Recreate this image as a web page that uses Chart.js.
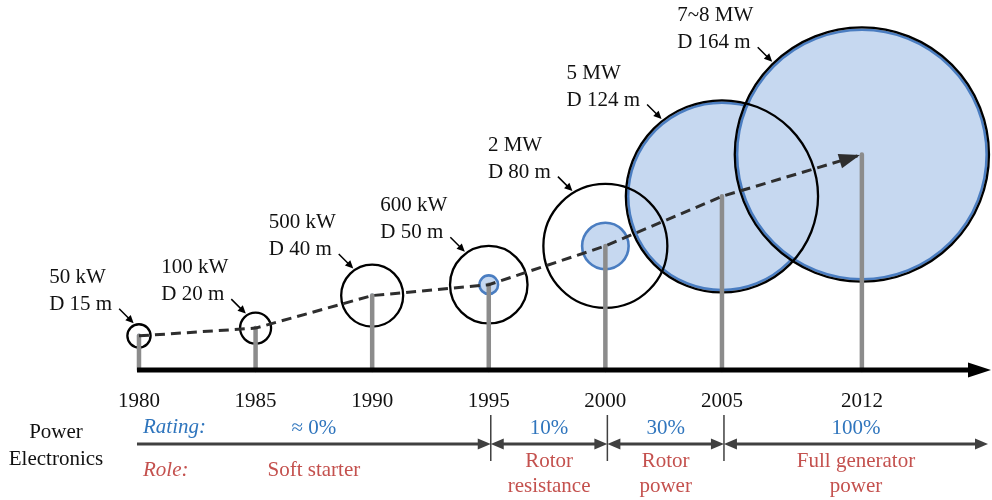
<!DOCTYPE html>
<html>
<head>
<meta charset="utf-8">
<script src="https://cdn.jsdelivr.net/npm/chart.js@4.4.1/dist/chart.umd.min.js"></script>
<style>
  html, body { margin: 0; padding: 0; background: #ffffff; }
  #wrap { width: 992px; height: 500px; position: relative; }
</style>
</head>
<body>
<div id="wrap"><canvas id="chart"></canvas></div>
<script>
// ---------------- data ----------------
const years = [1980, 1985, 1990, 1995, 2000, 2005, 2012];
const ratedPower = ['50 kW', '100 kW', '500 kW', '600 kW', '2 MW', '5 MW', '7~8 MW'];
const rotorDiameterM = [15, 20, 40, 50, 80, 124, 164];
const hubHeightM = [22, 27, 48, 55, 80, 112, 139];
const converterCircleM = [3, 3, 3, 12, 30, 121, 161];

const stageStartYear = [1980, 1995, 2000, 2005];
const stageRating = ['\u2248 0%', '10%', '30%', '100%'];
const stageRole = [['Soft starter'], ['Rotor', 'resistance'], ['Rotor', 'power'], ['Full generator', 'power']];

// ---------------- layout helpers ----------------
const calloutAngleDeg = [-113, -124, -125, -126, -121, -128, -134];
const SERIF = '"Liberation Serif", "Times New Roman", serif';
const FONT = '21px ' + SERIF;
const FONT_IT = 'italic 21px ' + SERIF;
const BLUE_TXT = '#2f75bd';
const RED_TXT = '#c4514e';
// axis break after 2005 (last interval drawn shorter)
function pos(y) { return y <= 2005 ? y : 2005 + (y - 2005) * 6 / 7; }
const X_MIN = 1974.04, X_MAX = 2016.58, Y_MIN = -83.9, Y_MAX = 238.7;

function pxLen(chart, meters) {
  const s = chart.scales.y;
  return Math.abs(s.getPixelForValue(0) - s.getPixelForValue(meters));
}

const hubPoints = () => years.map((y, i) => ({ x: pos(y), y: hubHeightM[i] }));
const towerPoints = years.flatMap((y, i) => [
  { x: pos(y), y: 0 }, { x: pos(y), y: hubHeightM[i] }, { x: pos(y), y: null }
]);

function arrowHead(ctx, tx, ty, ang, len, hw, color) {
  ctx.save();
  ctx.translate(tx, ty);
  ctx.rotate(ang);
  ctx.beginPath();
  ctx.moveTo(0, 0);
  ctx.lineTo(-len, -hw);
  ctx.lineTo(-len, hw);
  ctx.closePath();
  ctx.fillStyle = color;
  ctx.fill();
  ctx.restore();
}

const decor = {
  id: 'decor',
  afterDatasetsDraw(chart) {
    const ctx = chart.ctx;
    const xs = chart.scales.x, ys = chart.scales.y;
    const X = v => xs.getPixelForValue(v);
    const Y = v => ys.getPixelForValue(v);
    const groundY = Y(0);

    ctx.save();
    // ground / time axis arrow
    ctx.strokeStyle = '#000';
    ctx.lineWidth = 5;
    ctx.beginPath();
    ctx.moveTo(X(pos(years[0])) - 2, groundY);
    ctx.lineTo(970, groundY);
    ctx.stroke();
    arrowHead(ctx, 991, groundY, 0, 23, 7.5, '#000');

    // trajectory arrowhead
    const n = years.length;
    const ax0 = X(pos(years[n - 2])), ay0 = Y(hubHeightM[n - 2]);
    const ax1 = X(pos(years[n - 1])), ay1 = Y(hubHeightM[n - 1]);
    const ang = Math.atan2(ay1 - ay0, ax1 - ax0);
    arrowHead(ctx, ax1 - 2 * Math.cos(ang), ay1 - 2 * Math.sin(ang), ang, 21, 7.5, '#2e2e2e');

    // callouts
    ctx.font = FONT;
    ctx.textBaseline = 'alphabetic';
    ctx.textAlign = 'left';
    years.forEach((yr, i) => {
      const cx = X(pos(yr)), cy = Y(hubHeightM[i]);
      const r = pxLen(chart, rotorDiameterM[i] / 2) + 2;
      const a = calloutAngleDeg[i] * Math.PI / 180;
      const tipX = cx + r * Math.cos(a), tipY = cy + r * Math.sin(a);
      const tailX = tipX - 14.5, tailY = tipY - 14.5;
      ctx.strokeStyle = '#000';
      ctx.lineWidth = 1.5;
      ctx.beginPath();
      ctx.moveTo(tailX, tailY);
      ctx.lineTo(tipX - 4, tipY - 4);
      ctx.stroke();
      arrowHead(ctx, tipX, tipY, Math.PI / 4, 8, 3.8, '#000');
      const l2 = 'D ' + rotorDiameterM[i] + ' m';
      const w2 = ctx.measureText(l2).width;
      const left = tailX - 7 - w2;
      ctx.fillStyle = '#111';
      ctx.fillText(ratedPower[i], left, tailY - 26);
      ctx.fillText(l2, left, tailY + 1);
    });

    // year labels
    ctx.textAlign = 'center';
    ctx.fillStyle = '#111';
    years.forEach(yr => ctx.fillText(String(yr), X(pos(yr)), 407));

    // power electronics table
    ctx.fillText('Power', 56, 438);
    ctx.fillText('Electronics', 56, 465);
    ctx.textAlign = 'left';
    ctx.font = FONT_IT;
    ctx.fillStyle = BLUE_TXT;
    ctx.fillText('Rating:', 143, 433);
    ctx.fillStyle = RED_TXT;
    ctx.fillText('Role:', 143, 476);

    const arrowY = 444;
    const bounds = stageStartYear.map((y, i) => X(pos(y)) + (i === 0 ? -2 : 2));
    bounds.push(988);
    ctx.strokeStyle = '#404040';
    ctx.lineWidth = 1.5;
    for (let i = 1; i < stageStartYear.length; i++) {
      ctx.beginPath();
      ctx.moveTo(bounds[i], 415);
      ctx.lineTo(bounds[i], 461);
      ctx.stroke();
    }
    ctx.font = FONT;
    ctx.textAlign = 'center';
    for (let i = 0; i < stageStartYear.length; i++) {
      const a0 = bounds[i], a1 = bounds[i + 1];
      ctx.lineWidth = 3;
      ctx.beginPath();
      ctx.moveTo(a0 + (i === 0 ? 0 : 6), arrowY);
      ctx.lineTo(a1 - 6, arrowY);
      ctx.stroke();
      arrowHead(ctx, a1, arrowY, 0, 13, 5.5, '#404040');
      if (i > 0) arrowHead(ctx, a0, arrowY, Math.PI, 13, 5.5, '#404040');
      const mid = (a0 + a1) / 2;
      ctx.fillStyle = BLUE_TXT;
      ctx.fillText(stageRating[i], mid, 434);
      ctx.fillStyle = RED_TXT;
      const lines = stageRole[i];
      if (lines.length === 1) {
        ctx.fillText(lines[0], mid, 476);
      } else {
        ctx.fillText(lines[0], mid, 467);
        ctx.fillText(lines[1], mid, 492);
      }
    }
    ctx.restore();
  }
};

new Chart(document.getElementById('chart'), {
  type: 'scatter',
  data: {
    datasets: [
      {
        type: 'line',
        label: 'Trend',
        data: hubPoints(),
        borderColor: '#2e2e2e',
        borderWidth: 3,
        borderDash: [10, 6],
        pointRadius: 0,
        tension: 0,
        fill: false,
        order: 1
      },
      {
        type: 'line',
        label: 'Tower',
        data: towerPoints,
        borderColor: '#8c8c8c',
        borderWidth: 4.5,
        borderCapStyle: 'round',
        pointRadius: 0,
        spanGaps: false,
        fill: false,
        order: 2
      },
      {
        type: 'scatter',
        label: 'Rotor',
        data: hubPoints(),
        showLine: false,
        pointBackgroundColor: 'rgba(0,0,0,0)',
        pointBorderColor: '#000000',
        pointBorderWidth: 2.3,
        pointRadius: ctx => pxLen(ctx.chart, rotorDiameterM[ctx.dataIndex] / 2),
        order: 3
      },
      {
        type: 'scatter',
        label: 'Converter',
        data: hubPoints(),
        showLine: false,
        pointBackgroundColor: '#c6d8f0',
        pointBorderColor: '#4a7dc1',
        pointBorderWidth: ctx => (ctx.dataIndex < 3 ? 0 : 2.6),
        pointRadius: ctx => pxLen(ctx.chart, converterCircleM[ctx.dataIndex] / 2),
        order: 4
      }
    ]
  },
  options: {
    responsive: true,
    maintainAspectRatio: false,
    animation: false,
    devicePixelRatio: 1,
    events: [],
    layout: { padding: 0 },
    plugins: { legend: { display: false }, tooltip: { enabled: false } },
    scales: {
      x: { type: 'linear', min: X_MIN, max: X_MAX, display: false, offset: false },
      y: { type: 'linear', min: Y_MIN, max: Y_MAX, display: false }
    }
  },
  plugins: [decor]
});
</script>
</body>
</html>
